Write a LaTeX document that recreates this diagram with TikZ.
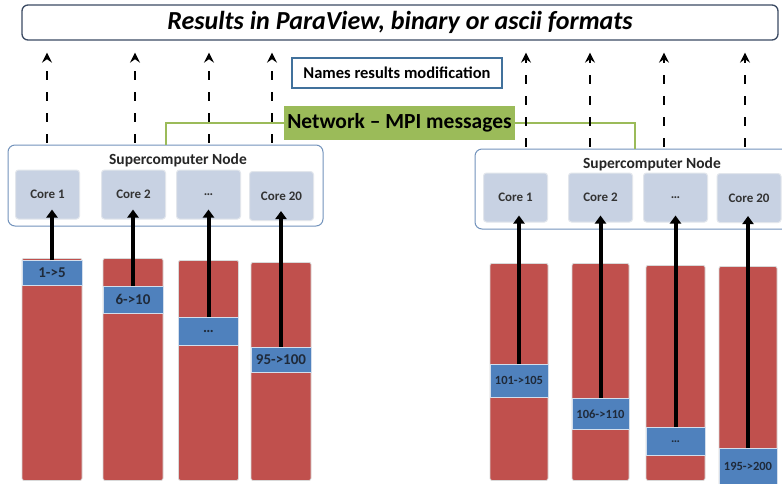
\documentclass[tikz,border=0pt]{standalone}
\usepackage{fontspec}
\setmainfont{Carlito}
\usepackage{xcolor}
\usepackage{tikz}
\usetikzlibrary{positioning,arrows.meta}

\definecolor{resline}{HTML}{3B4A63}
\definecolor{nameline}{HTML}{41719C}
\definecolor{netgreen}{HTML}{9BBB59}
\definecolor{nodeline}{HTML}{7393BC}
\definecolor{corefill}{HTML}{C8D2E3}
\definecolor{coreline}{HTML}{E2E6EC}
\definecolor{barred}{HTML}{C0504D}
\definecolor{barline}{HTML}{D9D9D9}
\definecolor{segblue}{HTML}{4F81BD}
\definecolor{segline}{HTML}{D3DEEC}
\definecolor{txtdark}{HTML}{1F2A3A}

\begin{document}
\begin{tikzpicture}[x=1pt,y=-1pt,
  resbox/.style={draw=resline, line width=1.3pt, rounded corners=6pt, fill=white,
    minimum width=756pt, minimum height=35pt, inner sep=0pt, font=\fontsize{26}{28}\selectfont\bfseries\itshape},
  namebox/.style={draw=nameline, line width=1.6pt, minimum width=210pt, minimum height=30pt,
    inner sep=0pt, font=\fontsize{16.5}{18}\selectfont\bfseries},
  netbox/.style={fill=netgreen, minimum width=231pt, minimum height=34pt, inner sep=0pt,
    font=\fontsize{21.5}{24}\selectfont\bfseries},
  netline/.style={draw=netgreen, line width=2pt},
  scnode/.style={draw=nodeline, line width=1pt, rounded corners=7pt, fill=white},
  sctitle/.style={font=\fontsize{15.5}{17}\selectfont\bfseries, text=black!85},
  corebox/.style={fill=corefill, draw=coreline, line width=1pt, rounded corners=3pt,
    minimum width=64pt, minimum height=49pt, font=\fontsize{13}{15}\selectfont\bfseries, text=black!80},
  bar/.style={fill=barred, draw=barline, line width=0.8pt, rounded corners=2pt,
    minimum width=60pt, anchor=north, inner sep=0pt},
  seg/.style={fill=segblue, draw=segline, line width=0.8pt, minimum width=60pt,
    anchor=north, inner sep=0pt, text=txtdark, font=\bfseries},
  feed/.style={draw=black, line width=4pt, -{Triangle[length=8pt,width=11pt]}},
  outarrow/.style={draw=black, line width=2.2pt, dash pattern=on 9pt off 12pt,
    -{Stealth[length=10pt,width=10pt,inset=3.5pt]}}]

\clip (0,0) rectangle (782,483);
\fill[white] (0,0) rectangle (782,483);

% results and network
\node[resbox] (res) at (400,22.5) {Results in ParaView, binary or ascii formats};
\node[namebox] (names) at (397,73) {Names results modification};

% supercomputer nodes
\node[scnode, minimum width=315pt, minimum height=81pt] (scA) at (165.5,185.5) {};
\node[scnode, minimum width=325pt, minimum height=80pt] (scB) at (637.5,189) {};
\node[sctitle] (tA) at (178,160) {Supercomputer Node};
\node[sctitle] (tB) at (652,164) {Supercomputer Node};

% cores
\node[corebox] (cA1) at (47.5,194.5) {Core 1};
\node[corebox] (cA2) at (133.5,194.5) {Core 2};
\node[corebox] (cA3) at (208.5,194.5) {\dots};
\node[corebox] (cA4) at (281.5,196) {Core 20};
\node[corebox] (cB1) at (515.5,197.5) {Core 1};
\node[corebox] (cB2) at (600.5,197.5) {Core 2};
\node[corebox] (cB3) at (675.5,197.5) {\dots};
\node[corebox] (cB4) at (749,198) {Core 20};

% data columns
\node[bar, minimum height=222pt] (rA1) at (52,258) {};
\node[bar, minimum height=222pt] (rA2) at (133,258) {};
\node[bar, minimum height=220pt] (rA3) at (208.5,260) {};
\node[bar, minimum height=218pt] (rA4) at (281,262) {};
\node[bar, minimum height=217pt, minimum width=58pt] (rB1) at (519,263) {};
\node[bar, minimum height=217pt, minimum width=57pt] (rB2) at (600.5,263) {};
\node[bar, minimum height=215pt, minimum width=59pt] (rB3) at (675.5,265) {};
\node[bar, minimum height=220pt, minimum width=58pt] (rB4) at (748,266) {};

% blocks of results
\node[seg, minimum height=25pt, font=\fontsize{15}{17}\selectfont\bfseries] (sA1) at (52,260) {1->5};
\node[seg, minimum height=27pt, font=\fontsize{15}{17}\selectfont\bfseries] (sA2) at (133,286) {6->10};
\node[seg, minimum height=28pt, font=\fontsize{15}{17}\selectfont\bfseries] (sA3) at (208.5,317) {\dots};
\node[seg, minimum height=25pt, font=\fontsize{15}{17}\selectfont\bfseries] (sA4) at (281,347) {95->100};
\node[seg, minimum height=33pt, minimum width=58pt, font=\fontsize{12.5}{14}\selectfont\bfseries] (sB1) at (519,364) {101->105};
\node[seg, minimum height=31pt, minimum width=57pt, font=\fontsize{12.5}{14}\selectfont\bfseries] (sB2) at (600.5,398) {106->110};
\node[seg, minimum height=28pt, minimum width=59pt, font=\fontsize{12.5}{14}\selectfont\bfseries] (sB3) at (675.5,427) {\dots};
\node[seg, minimum height=37pt, minimum width=58pt, font=\fontsize{12.5}{14}\selectfont\bfseries] (sB4) at (748,448) {195->200};

% network link
\node[netbox] (net) at (399.5,123) {Network -- MPI messages};
\coordinate (gA) at (166,0);
\coordinate (gB) at (635,0);
\draw[netline] (net.west) -| (scA.north -| gA);
\draw[netline] (net.east) -| (scB.north -| gB);

% cores read their blocks
\foreach \s/\c in {A1/A1,A2/A2,A3/A3,A4/A4}
  \draw[feed] (s\s.north) -- ([yshift=10pt]s\s.north |- c\c.south);
\foreach \s/\c in {B1/B1,B2/B2,B3/B3,B4/B4}
  \draw[feed] (s\s.north) -- ([yshift=7pt]s\s.north |- c\c.south);

% writing of results
\foreach \x [count=\i] in {47,135,209,272}
  \coordinate (oA\i) at (\x,0);
\foreach \x [count=\i] in {526,590,664,745}
  \coordinate (oB\i) at (\x,0);
\foreach \i in {1,...,4}
  \draw[outarrow] ([yshift=2pt]scA.north -| oA\i) -- ([yshift=-12pt]res.south -| oA\i);
\foreach \i in {1,...,4}
  \draw[outarrow] ([yshift=2pt]scB.north -| oB\i) -- ([yshift=-12pt]res.south -| oB\i);
\end{tikzpicture}
\end{document}
